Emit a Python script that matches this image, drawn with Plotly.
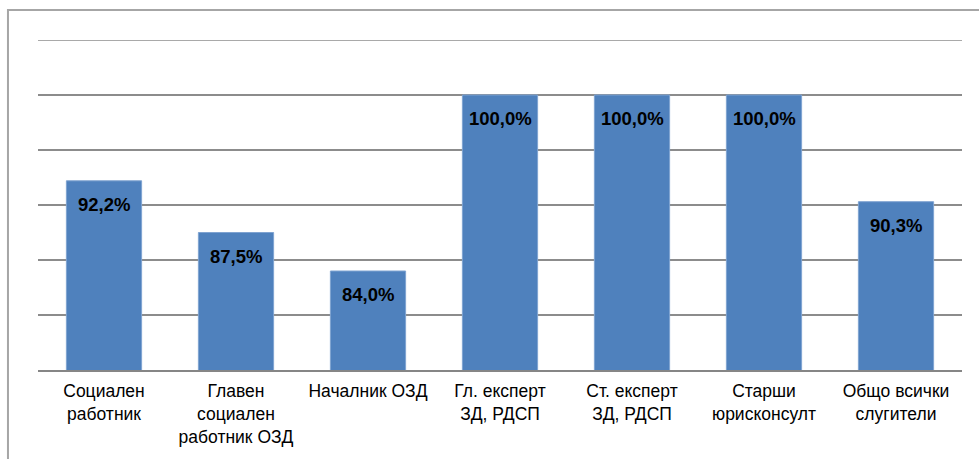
import plotly.graph_objects as go

categories = [
    "Социален<br>работник",
    "Главен<br>социален<br>работник ОЗД",
    "Началник ОЗД",
    "Гл. експерт<br>ЗД, РДСП",
    "Ст. експерт<br>ЗД, РДСП",
    "Старши<br>юрисконсулт",
    "Общо всички<br>слугители",
]
values = [92.2, 87.5, 84.0, 100.0, 100.0, 100.0, 90.3]
labels = [f"{v:.1f}%".replace(".", ",") for v in values]
y_top = 105

fig = go.Figure()
fig.add_trace(go.Bar(
    x=categories, y=values,
    marker=dict(color="#4F81BD", line=dict(color="#7FA3D1", width=1)),
    hoverinfo="skip",
))

for c, v, t in zip(categories, values, labels):
    fig.add_annotation(
        x=c, y=v, text=f"<b>{t}</b>", showarrow=False,
        yanchor="top", yshift=-11,
        font=dict(family="Liberation Sans, Arial", size=18.5, color="black"),
    )

fig.update_layout(
    width=979, height=459,
    margin=dict(l=38, r=17, t=40, b=89),
    paper_bgcolor="white", plot_bgcolor="white",
    bargap=0.43,
    showlegend=False,
    font=dict(family="Liberation Sans, Arial", size=17.5, color="black"),
    shapes=[
        dict(type="rect", xref="paper", yref="paper",
             x0=-0.0325, x1=1.2, y0=-0.5, y1=1.0909,
             line=dict(color="#A6A6A6", width=2), fillcolor="rgba(0,0,0,0)",
             layer="below"),
        dict(type="line", xref="paper", yref="y",
             x0=0, x1=1, y0=y_top, y1=y_top,
             line=dict(color="#8C8C8C", width=1.5), layer="below"),
    ],
)
fig.update_yaxes(
    range=[75, y_top], dtick=5, tick0=75,
    showgrid=True, gridcolor="#8C8C8C", gridwidth=1.5,
    showticklabels=False, zeroline=False, showline=False,
    automargin=False,
)
fig.update_xaxes(
    showline=True, linecolor="#868686", linewidth=2,
    ticks="outside", ticklen=4, tickcolor="rgba(0,0,0,0)",
    tickfont=dict(size=17.5, color="black"),
    automargin=False,
)

fig.write_html("out.html")
